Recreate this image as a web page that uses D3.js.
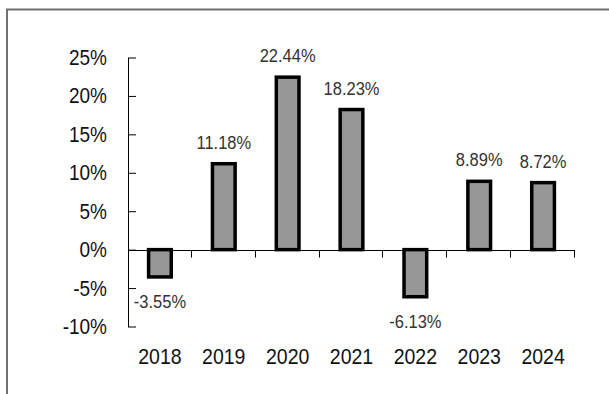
<!DOCTYPE html>
<html>
<head>
<meta charset="utf-8">
<script src="https://cdn.jsdelivr.net/npm/d3@7"></script>
<style>
body{margin:0;background:#fff;}
text{font-family:"Liberation Sans",Arial,sans-serif;}
</style>
</head>
<body>
<div id="chart"></div>
<script>
var w = 609;
var h = 394;

var years = ["2018","2019","2020","2021","2022","2023","2024"];
var returns = [-3.55, 11.18, 22.44, 18.23, -6.13, 8.89, 8.72];
var yTicks = [-10, -5, 0, 5, 10, 15, 20, 25];

var svg = d3.select("#chart")
	.append("svg")
	.attr("width", w)
	.attr("height", h);

// outer frame (right and bottom run off the picture)
svg.append("rect")
	.attr("x", 7).attr("y", 9.5)
	.attr("width", 640).attr("height", 420)
	.style("fill", "none")
	.style("stroke", "#707070")
	.style("stroke-width", 2);

var left = 128, right = 575;

var x = d3.scaleBand()
	.domain(years)
	.range([left, right]);

var y = d3.scaleLinear()
	.domain([-10, 25])
	.range([326.5, 57.5]);

var yAxis = d3.axisLeft(y)
	.tickValues(yTicks)
	.tickSizeInner(-8)
	.tickSizeOuter(0)
	.tickPadding(21)
	.tickFormat(function(d){return d + "%";});

var gy = svg.append("g")
	.attr("transform", "translate(" + left + ",0)")
	.call(yAxis);
gy.select(".domain").style("stroke", "#000");
gy.selectAll(".tick line").style("stroke", "#000");
gy.selectAll(".tick text")
	.style("font-size", "19px")
	.style("fill", "#111")
	.attr("font-family", null)
	.attr("transform", "scale(1,1.14)");

// x axis line at zero with ticks on the category boundaries
var y0 = Math.round(y(0)) + 0.5;
svg.append("line")
	.attr("x1", left).attr("x2", right)
	.attr("y1", y0).attr("y2", y0)
	.style("stroke", "#000");

svg.selectAll(".xtick")
	.data(years.slice(1).concat(["end"]))
	.enter().append("line")
	.attr("class", "xtick")
	.attr("x1", function(d){return d == "end" ? right - 0.5 : Math.round(x(d)) - 0.5;})
	.attr("x2", function(d){return d == "end" ? right - 0.5 : Math.round(x(d)) - 0.5;})
	.attr("y1", y0).attr("y2", y0 + 7)
	.style("stroke", "#000");

var data = years.map(function(d, i){return {year: d, value: returns[i]};});
var bw = x.bandwidth() * 0.355;

svg.selectAll(".bar")
	.data(data)
	.enter().append("rect")
	.attr("class", "bar")
	.attr("x", function(d){return x(d.year) + x.bandwidth()/2 - bw/2;})
	.attr("y", function(d){return d.value >= 0 ? y(d.value) : y(0);})
	.attr("width", bw)
	.attr("height", function(d){return Math.abs(y(d.value) - y(0));})
	.style("fill", "#979797")
	.style("stroke", "#000")
	.style("stroke-width", 3.5);

svg.selectAll(".val")
	.data(data)
	.enter().append("text")
	.attr("class", "val")
	.attr("text-anchor", "middle")
	.attr("transform", function(d){
		var ty = d.value >= 0 ? y(d.value) - 15 : y(d.value) + 31;
		return "translate(" + (x(d.year) + x.bandwidth()/2) + "," + ty + ") scale(1,1.12)";
	})
	.style("font-size", "16.5px")
	.style("fill", "#333")
	.text(function(d){return d.value.toFixed(2) + "%";});

svg.selectAll(".year")
	.data(years)
	.enter().append("text")
	.attr("class", "year")
	.attr("text-anchor", "middle")
	.attr("transform", function(d){
		return "translate(" + (x(d) + x.bandwidth()/2) + ",364) scale(1,1.14)";
	})
	.style("font-size", "19.5px")
	.style("fill", "#111")
	.text(function(d){return d;});
</script>
</body>
</html>
